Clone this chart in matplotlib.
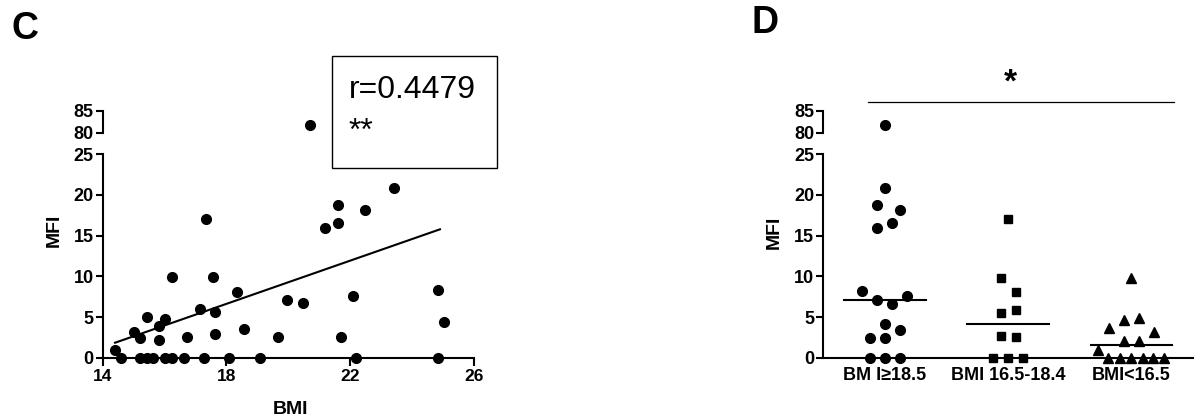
import numpy as np
import matplotlib
matplotlib.use("Agg")
import matplotlib.pyplot as plt
from matplotlib.patches import Rectangle
from matplotlib.lines import Line2D

plt.rcParams['font.family'] = ['Liberation Sans', 'DejaVu Sans']

# ---------------- Panel C data ----------------
bmi = [14.40, 14.60, 15.02, 15.20, 15.20, 15.42, 15.42, 15.64, 15.83, 15.83,
       16.02, 16.02, 16.24, 16.24, 16.64, 16.73, 17.15, 17.26, 17.33, 17.55,
       17.64, 17.64, 18.07, 18.35, 18.56, 19.07, 19.67, 19.97, 20.46, 21.18,
       21.60, 21.60, 21.69, 22.10, 22.20, 22.49, 23.40, 24.83, 24.83, 25.02]
mfi = [1.0, 0.0, 3.2, 0.0, 2.4, 5.0, 0.0, 0.0, 3.9, 2.2,
       4.8, 0.0, 9.9, 0.0, 0.0, 2.6, 6.0, 0.0, 17.0, 9.9,
       5.6, 2.9, 0.0, 8.1, 3.5, 0.0, 2.5, 7.1, 6.7, 16.0,
       18.8, 16.6, 2.5, 7.6, 0.0, 18.1, 20.8, 8.3, 0.0, 4.4]
outlier_bmi = [20.70]
outlier_mfi = [81.7]
fit_x = [14.40, 24.90]
fit_y = [1.84, 15.78]
r_text = "r=0.4479"
r_stars = "**"
c_xticks = [14, 18, 22, 26]
low_yticks = [0, 5, 10, 15, 20, 25]
high_yticks = [80, 85]

# ---------------- Panel D data ----------------
groups = ["BM I\u226518.5", "BMI 16.5-18.4", "BMI<16.5"]
g1_vals = [81.7, 20.8, 18.75, 18.1, 16.6, 16.0, 8.2, 7.6, 7.1, 6.6, 4.2, 3.4, 2.4, 2.4, 0, 0, 0]
g1_slot = [0, 0, -1, 2, 1, -1, -3, 3, -1, 1, 0, 2, -2, 0, -2, 0, 2]
g2_vals = [17.0, 9.8, 8.06, 5.9, 5.5, 2.7, 2.5, 0, 0, 0]
g2_slot = [0, -1, 1, 1, -1, -1, 1, -2, 0, 2]
g3_vals = [9.8, 3.7, 4.6, 4.85, 3.1, 2.1, 2.1, 1.0, 0, 0, 0, 0, 0, 0]
g3_slot = [0, -3, -1, 1, 3, -1, 1, -4.4, -3.07, -1.5, 0, 1.5, 2.9, 4.4]
sig_text = "*"

W, H = 1199, 417
fig = plt.figure(figsize=(W / 100, H / 100), dpi=100)

def fx(px):
    return px / W

def fy(py):
    return (H - py) / H

LW = 1.5
ytick_font = dict(fontsize=13, fontweight='bold')

def style_low(ax):
    for s in ['top', 'right']:
        ax.spines[s].set_visible(False)
    ax.spines['left'].set_linewidth(LW)
    ax.spines['bottom'].set_linewidth(LW)
    ax.tick_params(axis='both', width=LW, length=5, pad=1.5, direction='out')
    ax.set_ylim(0, 25)
    ax.set_yticks(low_yticks)
    ax.set_yticklabels([str(t) for t in low_yticks], **ytick_font)

def style_high(ax, xlim):
    for s in ['top', 'right', 'bottom']:
        ax.spines[s].set_visible(False)
    ax.spines['left'].set_linewidth(LW)
    ax.tick_params(axis='y', width=LW, length=5, pad=1.5, direction='out')
    ax.set_xticks([])
    ax.set_xlim(*xlim)
    ax.set_ylim(80, 85)
    ax.set_yticks(high_yticks)
    ax.set_yticklabels([str(t) for t in high_yticks], **ytick_font)
    ax.patch.set_alpha(0)

y0, y25, y80, y85 = 357.7, 154.3, 132.7, 110.7

# ---------------- Panel C ----------------
cl, cr = 102.7, 474.0
axc = fig.add_axes([fx(cl), fy(y0), fx(cr - cl), (y0 - y25) / H])
axc_h = fig.add_axes([fx(cl), fy(y80), fx(cr - cl), (y80 - y85) / H])
style_low(axc)
axc.set_xlim(14, 26)
axc.set_xticks(c_xticks)
axc.set_xticklabels([str(t) for t in c_xticks], fontsize=12.5, fontweight='bold')
axc.tick_params(axis='x', length=6, pad=2)
axc.patch.set_alpha(0)
axc.plot(bmi, mfi, 'o', color='black', ms=7, clip_on=False, zorder=3)
axc.plot(fit_x, fit_y, '-', color='black', lw=1.5, zorder=2)
style_high(axc_h, (14, 26))
axc_h.plot(outlier_bmi, outlier_mfi, 'o', color='black', ms=7, clip_on=False)

fig.text(fx(290), fy(409), "BMI", fontsize=14, fontweight='bold', ha='center', va='center')
fig.text(fx(54), fy(230), "MFI", fontsize=14, fontweight='bold', ha='center', va='center', rotation=90)
fig.text(fx(25), fy(29), "C", fontsize=27, fontweight='bold', ha='center', va='center')

fig.patches.append(Rectangle((fx(331.7), fy(168.3)), fx(497 - 331.7), (168.3 - 55.7) / H,
                             transform=fig.transFigure, fill=False, edgecolor='black', lw=1.0))
fig.text(fx(349), fy(98), r_text, fontsize=23, ha='left', va='baseline')
fig.text(fx(349), fy(140), r_stars, fontsize=23, ha='left', va='baseline')

# ---------------- Panel D ----------------
dl, dr = 823.3, 1193.0
axd = fig.add_axes([fx(dl), fy(y0), fx(dr - dl), (y0 - y25) / H])
axd_h = fig.add_axes([fx(dl), fy(y80), fx(dr - dl), (y80 - y85) / H])
style_low(axd)
axd.patch.set_alpha(0)
axd.set_xlim(-0.5, 2.5)
axd.set_xticks([0, 1, 2])
axd.set_xticklabels(groups, fontsize=13, fontweight='bold')
axd.tick_params(axis='x', length=0, pad=7)
style_high(axd_h, (-0.5, 2.5))

slot_w = 0.0607
med_half = 0.33
markers = ['o', 's', '^']
msizes = [7.0, 6.3, 7.2]
for i, (vals, slots) in enumerate([(g1_vals, g1_slot), (g2_vals, g2_slot), (g3_vals, g3_slot)]):
    xs = np.array([i + s * slot_w for s in slots])
    v = np.array(vals, dtype=float)
    low = v <= 25
    axd.plot(xs[low], v[low], markers[i], color='black', ms=msizes[i], clip_on=False, zorder=3)
    if (~low).any():
        axd_h.plot(xs[~low], v[~low], markers[i], color='black', ms=msizes[i], clip_on=False)
    med = np.median(v)
    axd.plot([i - med_half, i + med_half], [med, med], '-', color='black', lw=1.5, zorder=2)

fig.text(fx(774.5), fy(232), "MFI", fontsize=14, fontweight='bold', ha='center', va='center', rotation=90)
fig.text(fx(765), fy(23), "D", fontsize=27, fontweight='bold', ha='center', va='center')
fig.add_artist(Line2D([fx(868), fx(1174)], [fy(102.3), fy(102.3)], transform=fig.transFigure,
                      color='black', lw=0.9))
fig.text(fx(1010), fy(92), sig_text, fontsize=24, fontweight='bold', ha='center', va='baseline')

fig.savefig("out.png", dpi=100)
